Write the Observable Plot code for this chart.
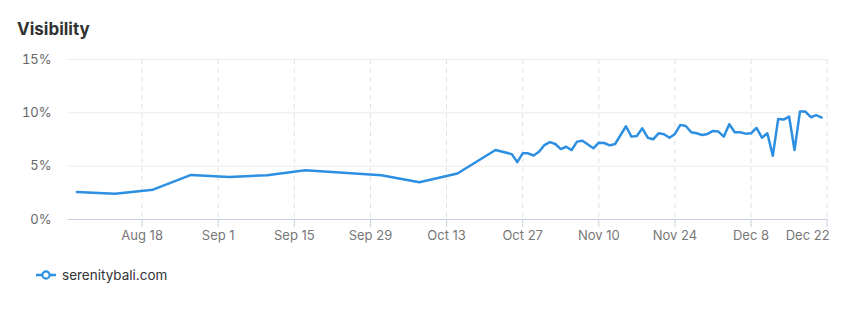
<!DOCTYPE html>
<html>
<head>
<meta charset="utf-8">
<script src="https://cdn.jsdelivr.net/npm/d3@7"></script>
<script src="https://cdn.jsdelivr.net/npm/@observablehq/plot@0.6"></script>
<style>
  html, body { margin: 0; padding: 0; background: #fff; }
  body { width: 845px; height: 320px; position: relative; overflow: hidden; font-family: Inter, "Open Sans", sans-serif; }
  #title { position: absolute; left: 17px; top: 21px; font-size: 17px; line-height: 17px; font-weight: 700; color: #333; }
  #chart { position: absolute; left: 0; top: 50px; }
  #legend { position: absolute; left: 36px; top: 265px; height: 20px; display: flex; align-items: center; font-size: 13.5px; color: #333; }
  #legend svg { margin-right: 6px; }
</style>
</head>
<body>
<div id="title">Visibility</div>
<div id="chart"></div>
<div id="legend"></div>
<script>
// ---- data ----
const seriesName = "serenitybali.com";
const dates = [
  "2024-08-06","2024-08-13","2024-08-20","2024-08-27","2024-09-03","2024-09-10","2024-09-17",
  "2024-10-01","2024-10-08","2024-10-15","2024-10-22","2024-10-25","2024-10-26","2024-10-27",
  "2024-10-28","2024-10-29","2024-10-30","2024-10-31","2024-11-01","2024-11-02","2024-11-03",
  "2024-11-04","2024-11-05","2024-11-06","2024-11-07","2024-11-09","2024-11-10","2024-11-11",
  "2024-11-12","2024-11-13","2024-11-15","2024-11-16","2024-11-17","2024-11-18","2024-11-19",
  "2024-11-20","2024-11-21","2024-11-22","2024-11-23","2024-11-24","2024-11-25","2024-11-26",
  "2024-11-27","2024-11-28","2024-11-29","2024-11-30","2024-12-01","2024-12-02","2024-12-03",
  "2024-12-04","2024-12-05","2024-12-06","2024-12-07","2024-12-08","2024-12-09","2024-12-10",
  "2024-12-11","2024-12-12","2024-12-13","2024-12-14","2024-12-15","2024-12-16","2024-12-17",
  "2024-12-18","2024-12-19","2024-12-20","2024-12-21"
];
const visibility = [
  2.58, 2.42, 2.80, 4.18, 3.99, 4.15, 4.62,
  4.15, 3.49, 4.31, 6.51, 6.13, 5.38, 6.20,
  6.20, 6.00, 6.35, 6.98, 7.26, 7.08, 6.60,
  6.82, 6.51, 7.30, 7.39, 6.67, 7.20, 7.17,
  6.95, 7.08, 8.74, 7.77, 7.83, 8.55, 7.67,
  7.52, 8.08, 7.99, 7.67, 8.02, 8.87, 8.77,
  8.18, 8.08, 7.92, 8.02, 8.30, 8.24, 7.77,
  8.93, 8.18, 8.18, 8.05, 8.08, 8.58, 7.67,
  8.08, 5.97, 9.43, 9.37, 9.65, 6.51, 10.12,
  10.12, 9.59, 9.78, 9.56
];
const xTickDates = ["2024-08-18","2024-09-01","2024-09-15","2024-09-29","2024-10-13","2024-10-27","2024-11-10","2024-11-24","2024-12-08","2024-12-22"];
const yTicks = [0, 5, 10, 15];
const xDomain = ["2024-08-04T11:00:00Z", "2024-12-22T06:00:00Z"];

// ---- build ----
const data = dates.map((d, i) => ({date: new Date(d + "T00:00:00Z"), value: visibility[i]}));
const xTicks = xTickDates.map(d => new Date(d + "T00:00:00Z"));
const innerTicks = xTicks.slice(0, -1);
const lastTick = xTicks.slice(-1);
const fmt = d3.utcFormat("%b %-d");
const lineColor = "#2d8fe2";
const axisColor = "#c9d1de";

const chart = Plot.plot({
  width: 845,
  height: 200,
  marginLeft: 68,
  marginRight: 17,
  marginTop: 9,
  marginBottom: 31,
  style: {fontFamily: "Inter, 'Open Sans', sans-serif", fontSize: "13px", color: "#777", background: "white"},
  x: {type: "utc", domain: xDomain.map(d => new Date(d))},
  y: {domain: [0, 15]},
  marks: [
    Plot.ruleY(yTicks.filter(d => d > 0), {stroke: "#ebebeb", strokeWidth: 1}),
    Plot.ruleX(xTicks, {stroke: "#e2e2e2", strokeDasharray: "5,4", strokeWidth: 1}),
    Plot.ruleY([0], {stroke: axisColor, strokeWidth: 1}),
    Plot.axisX({ticks: xTicks, tickFormat: () => "", tickSize: 8, stroke: axisColor, strokeOpacity: 1, label: null}),
    Plot.text(innerTicks, {x: d => d, text: d => fmt(d), frameAnchor: "bottom", lineAnchor: "top", dy: 11, fill: "#777"}),
    Plot.text(lastTick, {x: d => d, text: d => fmt(d), frameAnchor: "bottom", lineAnchor: "top", textAnchor: "end", dx: 2.5, dy: 11, fill: "#777"}),
    Plot.axisY({ticks: yTicks, tickSize: 0, tickPadding: 17, tickFormat: d => d + "%", fill: "#666", label: null}),
    Plot.lineY(data, {x: "date", y: "value", stroke: lineColor, strokeWidth: 2.5, strokeLinejoin: "round", strokeLinecap: "round"})
  ]
});
document.getElementById("chart").appendChild(chart);

// legend
const legend = document.getElementById("legend");
legend.innerHTML = `<svg width="20" height="12" viewBox="0 0 20 12"><line x1="0" y1="6" x2="20" y2="6" stroke="${lineColor}" stroke-width="2.5"/><circle cx="10" cy="6" r="3.6" fill="#fff" stroke="${lineColor}" stroke-width="2.2"/></svg><span></span>`;
legend.querySelector("span").textContent = seriesName;
</script>
</body>
</html>
